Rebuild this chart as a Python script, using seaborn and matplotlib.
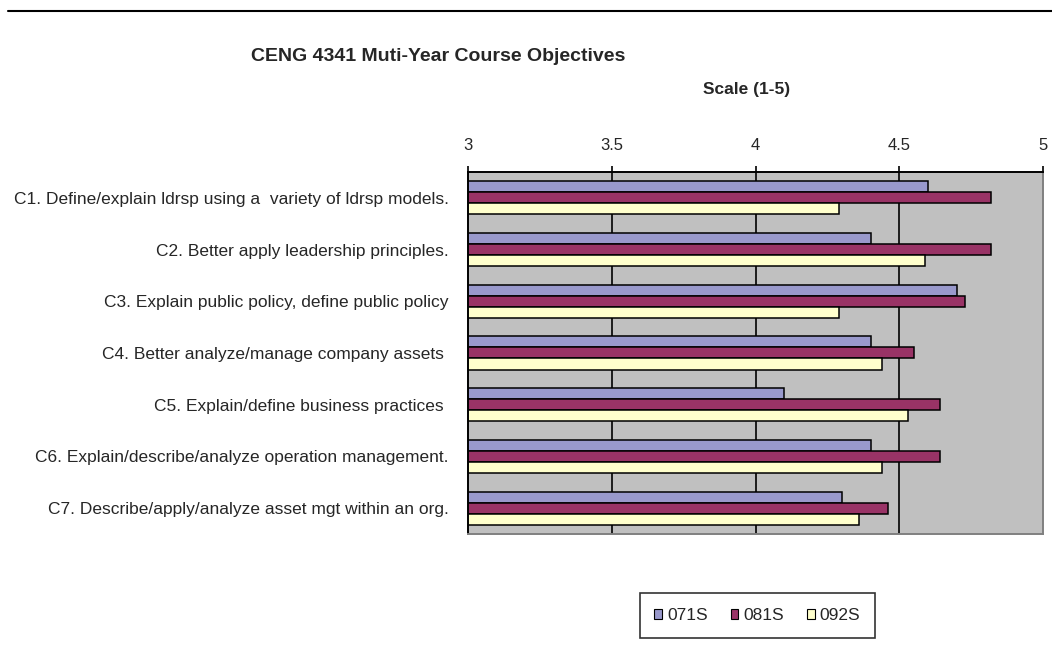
import numpy as np
import pandas as pd
import matplotlib
matplotlib.use("Agg")
import matplotlib.pyplot as plt
from matplotlib.lines import Line2D
import seaborn as sns

objectives = [
    "C1. Define/explain ldrsp using a  variety of ldrsp models.",
    "C2. Better apply leadership principles.",
    "C3. Explain public policy, define public policy",
    "C4. Better analyze/manage company assets ",
    "C5. Explain/define business practices ",
    "C6. Explain/describe/analyze operation management.",
    "C7. Describe/apply/analyze asset mgt within an org.",
]
terms = ["071S", "081S", "092S"]
scores_071S = [4.60, 4.40, 4.70, 4.40, 4.10, 4.40, 4.30]
scores_081S = [4.82, 4.82, 4.73, 4.55, 4.64, 4.64, 4.46]
scores_092S = [4.29, 4.59, 4.29, 4.44, 4.53, 4.44, 4.36]
term_colors = ["#9999CC", "#993366", "#FFFFCC"]
x_ticks = [3, 3.5, 4, 4.5, 5]

df = pd.DataFrame({
    "objective": objectives * 3,
    "term": [t for t in terms for _ in objectives],
    "score": scores_071S + scores_081S + scores_092S,
})

sns.set_theme(style="white")
plt.rcParams["font.family"] = ["Liberation Sans", "DejaVu Sans"]

fig = plt.figure(figsize=(10.52, 6.46), dpi=100)
ax = fig.add_axes([0.4449, 0.1734, 0.5466, 0.5604])

sns.barplot(data=df, y="objective", x="score", hue="term", order=objectives,
            hue_order=terms, palette=term_colors, orient="h", width=0.64,
            edgecolor="black", linewidth=1.1, saturation=1, ax=ax,
            errorbar=None, legend=False)

ax.set_facecolor("#C0C0C0")
ax.set_xlim(3, 5)
ax.set_ylim(len(objectives) - 0.5, -0.5)
ax.xaxis.tick_top()
ax.set_xticks(x_ticks)
ax.set_xticklabels([f"{v:g}" for v in x_ticks], fontsize=12)
ax.tick_params(axis="x", direction="out", length=4, width=1.2, color="black", pad=10)
for v in x_ticks[1:-1]:
    ax.axvline(v, color="black", linewidth=1.2, zorder=0.5)

ax.set_yticks(range(len(objectives)))
ax.set_yticklabels(objectives, fontsize=12.5)
ax.tick_params(axis="y", which="major", length=0, pad=14)
ax.set_yticks(np.arange(-0.5, len(objectives), 1.0), minor=True)
ax.tick_params(axis="y", which="minor", direction="out", length=4, width=1.2, color="black")
ax.set_xlabel("")
ax.set_ylabel("")

for side in ["top", "left"]:
    ax.spines[side].set_color("black")
    ax.spines[side].set_linewidth(1.4)
for side in ["right", "bottom"]:
    ax.spines[side].set_color("#808080")
    ax.spines[side].set_linewidth(1.4)

fig.text(0.417, 0.913, "CENG 4341 Muti-Year Course Objectives", ha="center",
         va="center", fontsize=14, fontweight="bold")
fig.text(0.710, 0.862, "Scale (1-5)", ha="center", va="center",
         fontsize=12.5, fontweight="bold")

fig.add_artist(Line2D([0.008, 1.0], [0.983, 0.983], color="black", linewidth=1.5,
                      transform=fig.transFigure))

handles = [plt.Rectangle((0, 0), 1, 1, facecolor=c, edgecolor="black", linewidth=0.8)
           for c in term_colors]
leg = fig.legend(handles, terms, loc="center", bbox_to_anchor=(0.720, 0.047),
                 ncol=3, frameon=True, fontsize=12.5, handlelength=0.45,
                 handleheight=0.45, handletextpad=0.3, columnspacing=1.3,
                 borderpad=0.85, fancybox=False)
leg.get_frame().set_edgecolor("black")
leg.get_frame().set_linewidth(1.2)

fig.savefig("out.png", dpi=100, facecolor="white")
